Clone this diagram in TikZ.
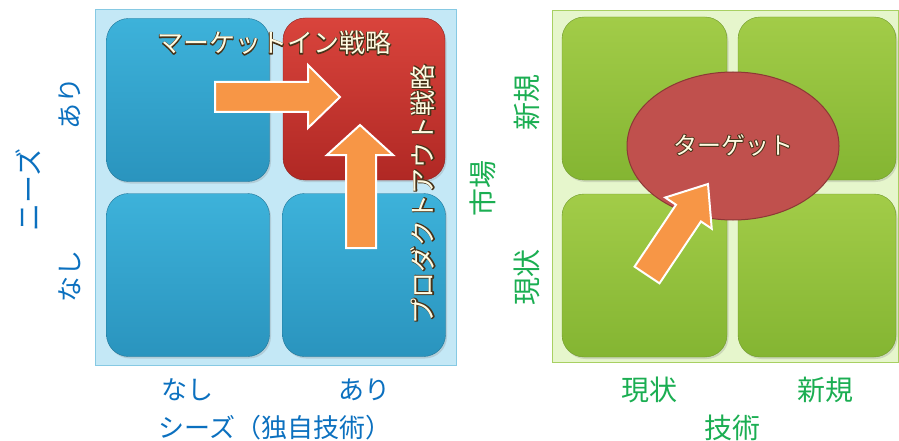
\documentclass[tikz,border=0pt]{standalone}
\usepackage{fontspec}
\setmainfont{Noto Sans CJK JP}
\usetikzlibrary{calc,shadows,shapes.geometric}
\definecolor{lbg}{HTML}{C4E8F6}
\definecolor{lbgb}{HTML}{86C9E3}
\definecolor{bluetop}{HTML}{3DB2DA}
\definecolor{bluebot}{HTML}{2A94BE}
\definecolor{redtop}{HTML}{D9443C}
\definecolor{redbot}{HTML}{B02824}
\definecolor{gbg}{HTML}{E6F6CC}
\definecolor{gbgb}{HTML}{A8D062}
\definecolor{greentop}{HTML}{A2CC48}
\definecolor{greenbot}{HTML}{84B532}
\definecolor{ellfill}{HTML}{C0504D}
\definecolor{ellline}{HTML}{8C3836}
\definecolor{orangeA}{HTML}{F79646}
\definecolor{bluetxt}{HTML}{0B70BF}
\definecolor{greentxt}{HTML}{1BAE52}
\definecolor{cream}{HTML}{FFFBE2}
\newcommand{\outl}[1]{\rlap{\special{pdf:literal direct 1 Tr 1.8 w 1 j 0.28 0.2 0.1 RG}#1\special{pdf:literal direct 0 Tr}}#1}
\begin{document}
\begin{tikzpicture}[x=1pt,y=-1pt,
  tile/.style={rounded corners=22pt, minimum width=163pt, minimum height=163pt, inner sep=0pt,
    drop shadow={opacity=0.25, shadow xshift=1.5pt, shadow yshift=-2pt}},
  bluetile/.style={tile, top color=bluetop, bottom color=bluebot, draw=bluebot!80!black, line width=0.4pt},
  redtile/.style={tile, top color=redtop, bottom color=redbot, draw=redbot!80!black, line width=0.4pt},
  greentile/.style={tile, top color=greentop, bottom color=greenbot, draw=greenbot!85!black, line width=0.4pt},
  blocka/.style={fill=orangeA, draw=white, line width=2pt, line join=miter},
  bluelab/.style={text=bluetxt, inner sep=0pt, font=\fontsize{26}{30}\selectfont},
  greenlab/.style={text=greentxt, inner sep=0pt, font=\fontsize{28}{32}\selectfont},
  inlab/.style={text=cream, inner sep=0pt, font=\fontsize{26}{30}\selectfont}]
\useasboundingbox (0,0) rectangle (899,441);
% ---------- left panel
\node[fill=lbg, draw=lbgb, line width=0.8pt, minimum width=361pt, minimum height=356pt, inner sep=0pt] (lbg) at (275.5,187) {};
\node[bluetile] (ltl) at (188,100) {};
\node[redtile, minimum width=162pt, minimum height=162pt] (ltr) at (364,99) {};
\node[bluetile] (lbl) at (188,275) {};
\node[bluetile] (lbr) at (364,275) {};
% arrows
\draw[blocka] (215,82) -- (308,82) -- (308,65) -- (340,97) -- (308,128) -- (308,112) -- (215,112) -- cycle;
\draw[blocka] (346,248) -- (346,155) -- (327,155) -- (360,125) -- (393,155) -- (376,155) -- (376,248) -- cycle;
\node[inlab] (mi) at (274,43) {\outl{マーケットイン戦略}};
\node[inlab, rotate=90] (po) at (423,194) {\outl{プロダクトアウト戦略}};
% left labels
\node[bluelab, rotate=90, font=\fontsize{28}{32}\selectfont] (needs) at (28,190) {ニーズ};
\node[bluelab, rotate=90] (nari) at (70,103) {あり};
\node[bluelab, rotate=90] (nnasi) at (70,276) {なし};
\node[bluelab] (snasi) at (187,390) {なし};
\node[bluelab] (sari) at (364,390) {あり};
\node[bluelab] (seeds) at (275,428) {シーズ（独自技術）};
% ---------- right panel
\node[fill=gbg, draw=gbgb, line width=0.8pt, minimum width=346pt, minimum height=352pt, inner sep=0pt] (rbg) at (725,186) {};
\node[greentile, minimum width=165pt] (rtl) at (644.5,98.5) {};
\node[greentile, minimum width=158pt] (rtr) at (817,98.5) {};
\node[greentile, minimum width=165pt] (rbl) at (644.5,275.5) {};
\node[greentile, minimum width=158pt] (rbr) at (817,275.5) {};
\node[ellipse, fill=ellfill, draw=ellline, line width=1pt, minimum width=212pt, minimum height=148pt, inner sep=0pt] (tgt) at (733,146) {};
\node[inlab, font=\fontsize{24}{28}\selectfont] (tgtl) at (733,145) {\outl{ターゲット}};
\coordinate (dtail) at (647,275);
\coordinate (dtip) at (708,184);
\coordinate (dhb) at ($(dtail)!0.68!(dtip)$);
\draw[blocka]
  ($(dtail)!15pt!90:(dtip)$) -- ($(dhb)!15pt!-90:(dtail)$) -- ($(dhb)!28pt!-90:(dtail)$) -- (dtip)
  -- ($(dhb)!28pt!90:(dtail)$) -- ($(dhb)!15pt!90:(dtail)$) -- ($(dtail)!15pt!-90:(dtip)$) -- cycle;
% right labels
\node[greenlab, rotate=90] (mkt) at (483,188) {市場};
\node[greenlab, rotate=90] (mnew) at (527,103) {新規};
\node[greenlab, rotate=90] (mcur) at (527,277) {現状};
\node[greenlab] (tcur) at (649,390) {現状};
\node[greenlab] (tnew) at (825,390) {新規};
\node[greenlab] (tech) at (732,428) {技術};
\end{tikzpicture}
\end{document}
